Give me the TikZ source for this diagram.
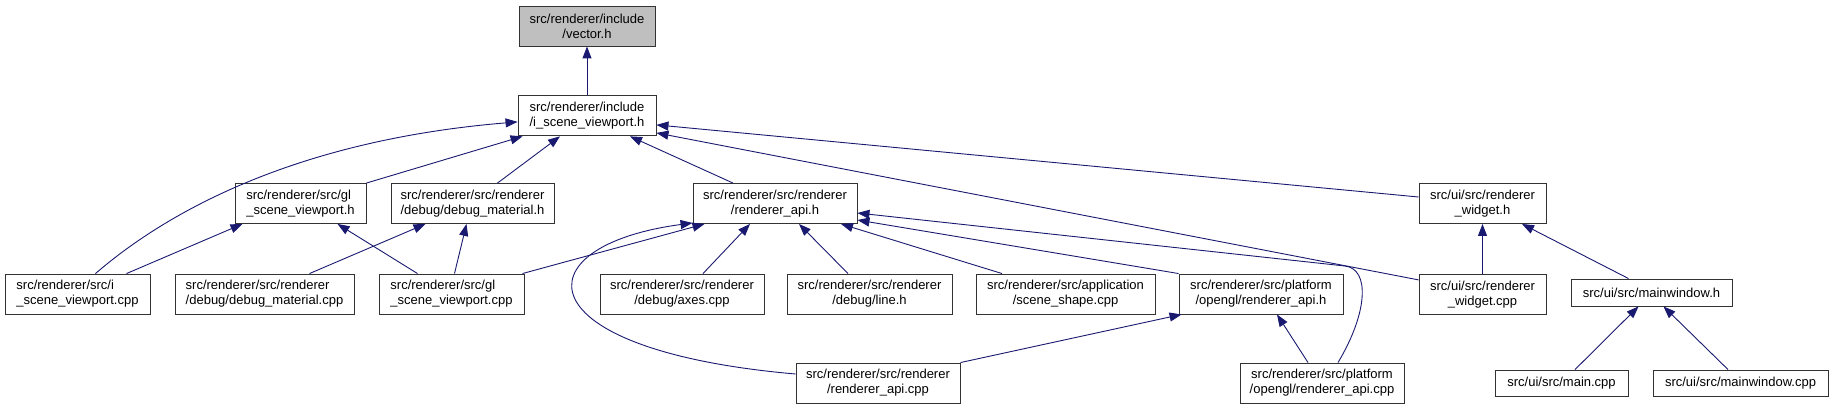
\documentclass[tikz,border=0pt]{standalone}
\usepackage{fontspec}
\setmainfont{Liberation Sans}
\usetikzlibrary{positioning, arrows.meta}
\definecolor{linkblue}{HTML}{191970}
\definecolor{rootgray}{HTML}{BFBFBF}

\begin{document}
\begin{tikzpicture}[x=1pt, y=-1pt,
  filebox/.style={draw=black!80, line width=0.9pt, fill=white, align=center, minimum height=40pt, inner sep=0pt, font=\fontsize{13pt}{15pt}\selectfont},
  include/.style={->, >={Triangle[length=12pt, width=9pt]}, draw=linkblue, line width=0.9pt}]
\useasboundingbox (0,0) rectangle (1833,409);
\node[filebox, fill=rootgray, minimum width=136pt] (vector)  at (587,26)      {src/renderer/include\\/vector.h};
\node[filebox, minimum width=138pt]                (isvh)    [below=49pt of vector] {src/renderer/include\\/i\_scene\_viewport.h};
\node[filebox, align=left, minimum width=131pt]    (glsvh)   at (300.5,203.5) {src/renderer/src/gl\\\_scene\_viewport.h};
\node[filebox, align=left, minimum width=163pt]    (dmh)     at (472.5,203.5) {src/renderer/src/renderer\\/debug/debug\_material.h};
\node[filebox, minimum width=164pt]                (rapih)   at (775,203.5)   {src/renderer/src/renderer\\/renderer\_api.h};
\node[filebox, minimum width=127pt]                (rwh)     at (1482.5,203.5) {src/ui/src/renderer\\\_widget.h};
\node[filebox, align=left, minimum width=145pt]    (isvcpp)  at (77.5,294)    {src/renderer/src/i\\\_scene\_viewport.cpp};
\node[filebox, align=left, minimum width=179pt]    (dmcpp)   at (264.5,294)   {src/renderer/src/renderer\\/debug/debug\_material.cpp};
\node[filebox, align=left, minimum width=145pt]    (glsvcpp) at (451.5,294)   {src/renderer/src/gl\\\_scene\_viewport.cpp};
\node[filebox, minimum width=164pt]                (axes)    at (682,294)     {src/renderer/src/renderer\\/debug/axes.cpp};
\node[filebox, minimum width=165pt]                (line)    at (869.5,294)   {src/renderer/src/renderer\\/debug/line.h};
\node[filebox, minimum width=179pt]                (shape)   at (1065.5,294)  {src/renderer/src/application\\/scene\_shape.cpp};
\node[filebox, minimum width=164pt]                (oglh)    at (1261,294)    {src/renderer/src/platform\\/opengl/renderer\_api.h};
\node[filebox, minimum width=127pt]                (rwcpp)   [below=50.5pt of rwh] {src/ui/src/renderer\\\_widget.cpp};
\node[filebox, minimum width=161pt, minimum height=27pt] (mwh) at (1651.5,292.5) {src/ui/src/mainwindow.h};
\node[filebox, minimum width=164pt]                (rapicpp) at (878,383)     {src/renderer/src/renderer\\/renderer\_api.cpp};
\node[filebox, minimum width=164pt]                (oglcpp)  at (1322,383)    {src/renderer/src/platform\\/opengl/renderer\_api.cpp};
\node[filebox, minimum width=133pt, minimum height=26pt] (main) at (1561.5,383) {src/ui/src/main.cpp};
\node[filebox, minimum width=175pt, minimum height=26pt] (mwcpp) at (1740.5,383) {src/ui/src/mainwindow.cpp};
\coordinate (oglbend) at (1345,266);
\draw[include] (isvh) -- (vector);
\draw[include] (glsvh.north east) -- ([xshift=5pt]isvh.south west);
\draw[include] ([xshift=25pt]dmh.north) -- ([xshift=-27pt]isvh.south);
\draw[include] ([xshift=-42pt]rapih.north) -- ([xshift=43pt]isvh.south);
\draw[include] ([xshift=18pt]isvcpp.north) .. controls +(74,-64) and +(-218,18) .. ([yshift=-6pt]isvh.west);
\draw[include] ([yshift=15pt]rwcpp.west) -- ([yshift=-17pt]isvh.east);
\draw[include] ([yshift=6.5pt]rwh.west) -- ([yshift=-9pt]isvh.east);
\draw[include] ([xshift=49pt]isvcpp.north) -- ([xshift=-58pt]glsvh.south);
\draw[include] ([xshift=-34pt]glsvcpp.north) -- ([xshift=37pt]glsvh.south);
\draw[include] ([xshift=45pt]dmcpp.north) -- ([xshift=-47pt]dmh.south);
\draw[include] ([xshift=3pt]glsvcpp.north) -- ([xshift=-6pt]dmh.south);
\draw[include] ([xshift=-2pt]glsvcpp.north east) -- ([xshift=12pt]rapih.south west);
\draw[include] ([yshift=9pt]rapicpp.west) .. controls +(-275,-24) and +(-173,23) .. ([yshift=1pt]rapih.south west);
\draw[include] ([xshift=21pt]axes.north) -- ([xshift=-25pt]rapih.south);
\draw[include] ([xshift=-21.5pt]line.north) -- ([xshift=24pt]rapih.south);
\draw[include] ([xshift=-63.5pt]shape.north) -- ([xshift=66pt]rapih.south);
\draw[include] (oglh.north west) -- ([yshift=-16.5pt]rapih.east);
\draw[include] ([xshift=16pt]oglcpp.north) .. controls +(30,-50) and +(25,3) .. (oglbend) -- ([yshift=-9.5pt]rapih.east);
\draw[include] (rapicpp.north east) -- ([xshift=3pt]oglh.south west);
\draw[include] ([xshift=-14pt]oglcpp.north) -- ([xshift=16pt]oglh.south);
\draw[include] (rwcpp) -- (rwh);
\draw[include] ([xshift=-23pt]mwh.north) -- ([xshift=39.5pt]rwh.south);
\draw[include] ([xshift=13.5pt]main.north) -- ([xshift=-13pt]mwh.south);
\draw[include] ([xshift=-12.5pt]mwcpp.north) -- ([xshift=12pt]mwh.south);
\end{tikzpicture}
\end{document}
